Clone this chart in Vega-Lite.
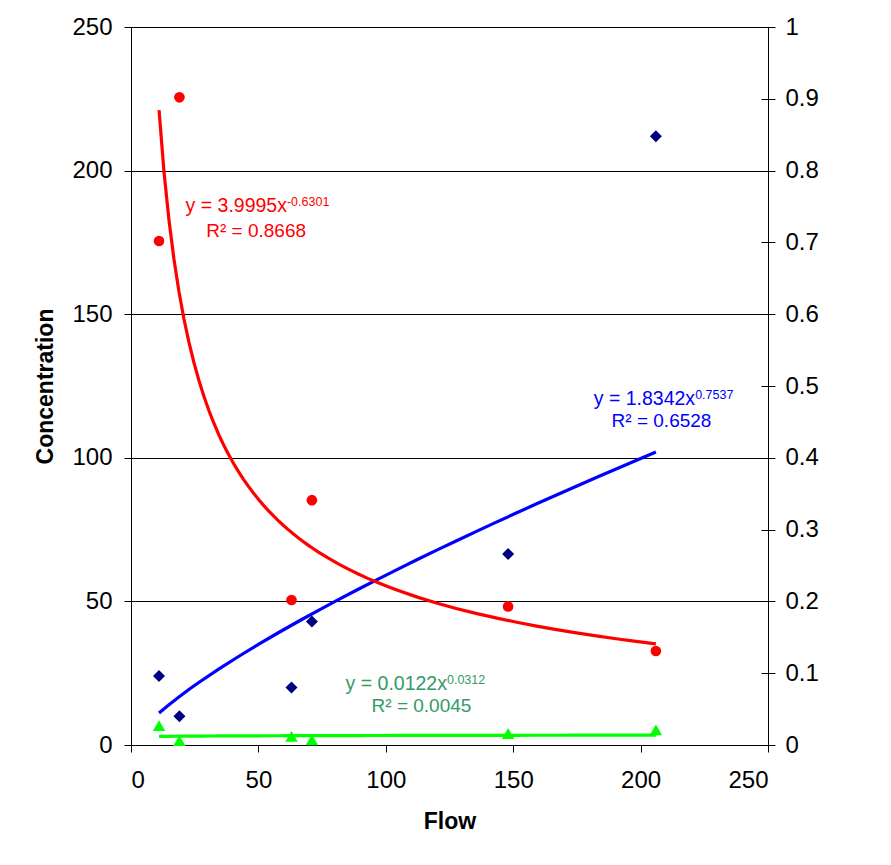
{
  "$schema": "https://vega.github.io/schema/vega-lite/v6.json",
  "width": 637,
  "height": 718,
  "autosize": "none",
  "padding": {"left": 131, "top": 27, "right": 123, "bottom": 120},
  "background": "white",
  "config": {
    "font": "Liberation Sans",
    "view": {"stroke": "#808080", "strokeWidth": 1},
    "axis": {
      "labelFont": "Liberation Sans",
      "titleFont": "Liberation Sans",
      "labelColor": "#000000",
      "titleColor": "#000000",
      "domainColor": "#000000",
      "tickColor": "#000000",
      "labelFontSize": 24,
      "titleFontSize": 23,
      "titleFontWeight": "bold",
      "tickSize": 7,
      "domainWidth": 1,
      "tickWidth": 1,
      "grid": false
    },
    "text": {"font": "Liberation Sans"}
  },
  "datasets": {
    "obs": [
      {"flow": 11, "value": 24, "series": "Blue"},
      {"flow": 19, "value": 10, "series": "Blue"},
      {"flow": 63, "value": 20, "series": "Blue"},
      {"flow": 71, "value": 43, "series": "Blue"},
      {"flow": 148, "value": 66.5, "series": "Blue"},
      {"flow": 206, "value": 212, "series": "Blue"},
      {"flow": 11, "value": 0.702, "series": "Red"},
      {"flow": 19, "value": 0.902, "series": "Red"},
      {"flow": 63, "value": 0.202, "series": "Red"},
      {"flow": 71, "value": 0.341, "series": "Red"},
      {"flow": 148, "value": 0.193, "series": "Red"},
      {"flow": 206, "value": 0.131, "series": "Red"},
      {"flow": 11, "value": 0.027, "series": "Green"},
      {"flow": 19, "value": 0.006, "series": "Green"},
      {"flow": 63, "value": 0.012, "series": "Green"},
      {"flow": 71, "value": 0.007, "series": "Green"},
      {"flow": 148, "value": 0.016, "series": "Green"},
      {"flow": 206, "value": 0.021, "series": "Green"}
    ]
  },
  "data": {"name": "obs"},
  "encoding": {
    "x": {
      "field": "flow",
      "type": "quantitative",
      "scale": {"domain": [0, 250], "nice": false, "zero": true},
      "axis": {
        "title": "Flow",
        "values": [0, 50, 100, 150, 200, 250],
        "labelPadding": 16,
        "titlePadding": 18
      }
    }
  },
  "layer": [
    {
      "transform": [{"filter": "datum.series === 'Blue'"}],
      "mark": {"type": "point", "shape": "diamond", "filled": true, "color": "#000080", "size": 144, "opacity": 1},
      "encoding": {
        "y": {
          "field": "value",
          "type": "quantitative",
          "scale": {"domain": [0, 250], "nice": false},
          "axis": {
            "orient": "left",
            "title": "Concentration",
            "values": [0, 50, 100, 150, 200, 250],
            "grid": true,
            "gridColor": "#000000",
            "gridWidth": 1,
            "labelPadding": 12,
            "titlePadding": 14
          }
        }
      }
    },
    {
      "transform": [{"filter": "datum.series === 'Green'"}],
      "mark": {"type": "point", "shape": "triangle-up", "filled": true, "color": "#00FF00", "size": 155, "opacity": 1},
      "encoding": {
        "y": {
          "field": "value",
          "type": "quantitative",
          "scale": {"domain": [0, 1], "nice": false},
          "axis": {
            "orient": "right",
            "title": null,
            "values": [0, 0.1, 0.2, 0.3, 0.4, 0.5, 0.6, 0.7, 0.8, 0.9, 1],
            "format": "~g",
            "labelPadding": 10
          }
        }
      }
    },
    {
      "transform": [{"filter": "datum.series === 'Red'"}],
      "mark": {"type": "point", "shape": "circle", "filled": true, "color": "#FF0000", "size": 113, "opacity": 1},
      "encoding": {
        "y": {
          "field": "value",
          "type": "quantitative",
          "scale": {"domain": [0, 1], "nice": false},
          "axis": {
            "orient": "right",
            "title": null,
            "values": [0, 0.1, 0.2, 0.3, 0.4, 0.5, 0.6, 0.7, 0.8, 0.9, 1],
            "labels": false,
            "domain": false,
            "tickSize": -7
          }
        }
      }
    },
    {
      "transform": [
        {"filter": "datum.series === 'Blue'"},
        {"regression": "value", "on": "flow", "method": "pow"}
      ],
      "mark": {"type": "line", "color": "#0000FF", "strokeWidth": 3.2},
      "encoding": {
        "y": {"field": "value", "type": "quantitative", "scale": {"domain": [0, 250], "nice": false}, "axis": null}
      }
    },
    {
      "transform": [
        {"filter": "datum.series === 'Red'"},
        {"regression": "value", "on": "flow", "method": "pow"}
      ],
      "mark": {"type": "line", "color": "#FF0000", "strokeWidth": 3.2},
      "encoding": {
        "y": {"field": "value", "type": "quantitative", "scale": {"domain": [0, 1], "nice": false}, "axis": null}
      }
    },
    {
      "transform": [
        {"filter": "datum.series === 'Green'"},
        {"regression": "value", "on": "flow", "method": "pow"}
      ],
      "mark": {"type": "line", "color": "#00FF00", "strokeWidth": 3.2},
      "encoding": {
        "y": {"field": "value", "type": "quantitative", "scale": {"domain": [0, 1], "nice": false}, "axis": null}
      }
    },
    {
      "transform": [{"filter": "datum.series === 'Blue' && datum.flow === 11"}],
      "layer": [
        {
          "mark": {"type": "text", "align": "right", "baseline": "alphabetic", "fontSize": 19.5, "color": "#0000FF"},
          "encoding": {
            "text": {"value": "y = 1.8342x"},
            "x": {"datum": 221.4, "type": "quantitative"},
            "y": {"datum": 118.4, "type": "quantitative", "scale": {"domain": [0, 250], "nice": false}, "axis": null}
          }
        },
        {
          "mark": {"type": "text", "align": "left", "baseline": "alphabetic", "fontSize": 12.5, "dy": -6, "color": "#0000FF"},
          "encoding": {
            "text": {"value": "0.7537"},
            "x": {"datum": 221.4, "type": "quantitative"},
            "y": {"datum": 118.4, "type": "quantitative", "scale": {"domain": [0, 250], "nice": false}, "axis": null}
          }
        },
        {
          "mark": {"type": "text", "align": "center", "baseline": "alphabetic", "fontSize": 19, "color": "#0000FF"},
          "encoding": {
            "text": {"value": "R² = 0.6528"},
            "x": {"datum": 208.2, "type": "quantitative"},
            "y": {"datum": 110.8, "type": "quantitative", "scale": {"domain": [0, 250], "nice": false}, "axis": null}
          }
        },
        {
          "mark": {"type": "text", "align": "right", "baseline": "alphabetic", "fontSize": 19.5, "color": "#FF0000"},
          "encoding": {
            "text": {"value": "y = 3.9995x"},
            "x": {"datum": 61.2, "type": "quantitative"},
            "y": {"datum": 185.5, "type": "quantitative", "scale": {"domain": [0, 250], "nice": false}, "axis": null}
          }
        },
        {
          "mark": {"type": "text", "align": "left", "baseline": "alphabetic", "fontSize": 12.5, "dy": -6, "color": "#FF0000"},
          "encoding": {
            "text": {"value": "-0.6301"},
            "x": {"datum": 61.2, "type": "quantitative"},
            "y": {"datum": 185.5, "type": "quantitative", "scale": {"domain": [0, 250], "nice": false}, "axis": null}
          }
        },
        {
          "mark": {"type": "text", "align": "center", "baseline": "alphabetic", "fontSize": 19, "color": "#FF0000"},
          "encoding": {
            "text": {"value": "R² = 0.8668"},
            "x": {"datum": 49.1, "type": "quantitative"},
            "y": {"datum": 176.9, "type": "quantitative", "scale": {"domain": [0, 250], "nice": false}, "axis": null}
          }
        },
        {
          "mark": {"type": "text", "align": "right", "baseline": "alphabetic", "fontSize": 19.5, "color": "#339966"},
          "encoding": {
            "text": {"value": "y = 0.0122x"},
            "x": {"datum": 124.0, "type": "quantitative"},
            "y": {"datum": 19.15, "type": "quantitative", "scale": {"domain": [0, 250], "nice": false}, "axis": null}
          }
        },
        {
          "mark": {"type": "text", "align": "left", "baseline": "alphabetic", "fontSize": 12.5, "dy": -6, "color": "#339966"},
          "encoding": {
            "text": {"value": "0.0312"},
            "x": {"datum": 124.0, "type": "quantitative"},
            "y": {"datum": 19.15, "type": "quantitative", "scale": {"domain": [0, 250], "nice": false}, "axis": null}
          }
        },
        {
          "mark": {"type": "text", "align": "center", "baseline": "alphabetic", "fontSize": 19, "color": "#339966"},
          "encoding": {
            "text": {"value": "R² = 0.0045"},
            "x": {"datum": 114.0, "type": "quantitative"},
            "y": {"datum": 11.6, "type": "quantitative", "scale": {"domain": [0, 250], "nice": false}, "axis": null}
          }
        }
      ]
    }
  ],
  "resolve": {"scale": {"y": "independent"}}
}
